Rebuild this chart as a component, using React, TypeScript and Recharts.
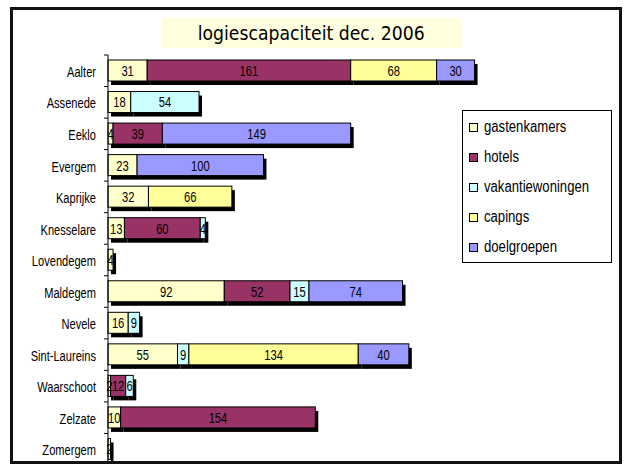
import React from 'react';
import { BarChart, Bar, XAxis, YAxis, LabelList } from 'recharts';

const categories = ['Aalter', 'Assenede', 'Eeklo', 'Evergem', 'Kaprijke', 'Knesselare', 'Lovendegem', 'Maldegem', 'Nevele', 'Sint-Laureins', 'Waarschoot', 'Zelzate', 'Zomergem'];
const gastenkamers = [31, 18, 4, 23, 32, 13, 4, 92, 16, 55, 2, 10, 2];
const hotels = [161, null, 39, null, null, 60, null, 52, null, null, 12, 154, null];
const vakantiewoningen = [null, 54, null, null, null, 4, null, 15, 9, 9, 6, null, null];
const capings = [68, null, null, null, 66, null, null, null, null, 134, null, null, null];
const doelgroepen = [30, null, 149, 100, null, null, null, 74, null, 40, null, null, null];

const seriesNames = ['gastenkamers', 'hotels', 'vakantiewoningen', 'capings', 'doelgroepen'];
const seriesValues = [gastenkamers, hotels, vakantiewoningen, capings, doelgroepen];
const seriesColors = ['#FFFFCC', '#993366', '#CCFFFF', '#FFFF99', '#9999FF'];

const title = 'logiescapaciteit dec. 2006';

const data = categories.map((c, i) => {
  const row: Record<string, any> = { name: c };
  seriesNames.forEach((s, k) => {
    row[s] = seriesValues[k][i];
  });
  return row;
});

const FONT = "'Liberation Sans', Arial, sans-serif";
const CHART_H = 470;
const M_TOP = 55;
const M_BOTTOM = 5;
const BAND = (CHART_H - M_TOP - M_BOTTOM) / categories.length;

const ShadowBar = (props: any) => {
  const { x, y, width, height, fill } = props;
  if (!(width > 0) || !(height > 0)) return null;
  return (
    <g>
      <rect x={x + 3} y={y + 4} width={width} height={height} fill="#000" />
      <rect x={x} y={y} width={width} height={height} fill={fill} stroke="#000" strokeWidth={1} />
    </g>
  );
};

const ValueLabel = (props: any) => {
  const { x, y, width, height, value } = props;
  if (value === null || value === undefined || value === 0) return null;
  return (
    <text
      transform={`translate(${x + width / 2},${y + height / 2 + 1}) scale(0.8,1)`}
      x={0}
      y={0}
      textAnchor="middle"
      dominantBaseline="central"
      fontFamily={FONT}
      fontSize={14}
      fill="#000"
    >
      {value}
    </text>
  );
};

const CatTick = (props: any) => {
  const { x, y, payload } = props;
  return (
    <g>
      <line x1={x - 4} x2={x} y1={y - BAND / 2} y2={y - BAND / 2} stroke="#000" strokeWidth={1} />
      <text
        transform={`translate(${x - 12},${y + 1}) scale(0.74,1)`}
        x={0}
        y={0}
        textAnchor="end"
        dominantBaseline="central"
        fontFamily={FONT}
        fontSize={15}
        fill="#000"
      >
        {payload.value}
      </text>
    </g>
  );
};

export default function App() {
  return (
    <div style={{ position: 'fixed', left: 0, top: 0, width: 624, height: 464, overflow: 'hidden', background: '#fff' }}>
      <div style={{ position: 'absolute', left: 0, top: 0 }}>
        <BarChart
          width={624}
          height={CHART_H}
          data={data}
          layout="vertical"
          margin={{ top: M_TOP, right: 10.4, bottom: M_BOTTOM, left: 0 }}
          barSize={21}
        >
          <XAxis type="number" domain={[0, 400]} hide />
          <YAxis
            type="category"
            dataKey="name"
            width={108}
            tickSize={0}
            tickMargin={0}
            tickLine={false}
            axisLine={{ stroke: '#000', strokeWidth: 1 }}
            tick={<CatTick />}
            interval={0}
          />
          {seriesNames.map((s, k) => (
            <Bar key={s} dataKey={s} stackId="a" fill={seriesColors[k]} shape={<ShadowBar />} isAnimationActive={false}>
              <LabelList dataKey={s} content={<ValueLabel />} />
            </Bar>
          ))}
        </BarChart>
      </div>
      <div
        style={{
          position: 'absolute', left: 162, top: 18, width: 299, height: 30, background: '#FFFFE0',
          display: 'flex', alignItems: 'center', justifyContent: 'center',
        }}
      >
        <span style={{ fontFamily: "'DejaVu Sans', Verdana, sans-serif", fontSize: 19.5, color: '#000', display: 'inline-block', transform: 'scaleX(0.885)', whiteSpace: 'nowrap' }}>
          {title}
        </span>
      </div>
      <div
        style={{
          position: 'absolute', left: 462, top: 110, width: 150, height: 153, border: '1px solid #000',
          background: '#fff', boxSizing: 'border-box',
        }}
      >
        {seriesNames.map((s, k) => (
          <div
            key={s}
            style={{ position: 'absolute', left: 6, top: 16 + k * 30 - 10, height: 20, display: 'flex', alignItems: 'center' }}
          >
            <div style={{ width: 7, height: 7, border: '1px solid #000', background: seriesColors[k], flexShrink: 0 }} />
            <span style={{ marginLeft: 6, fontFamily: FONT, fontSize: 16, color: '#000', whiteSpace: 'nowrap', display: 'inline-block', transform: 'scaleX(0.82)', transformOrigin: 'left center' }}>{s}</span>
          </div>
        ))}
      </div>
      <div
        style={{
          position: 'absolute', left: 10, top: 7, width: 612, height: 457, border: '3px solid #111',
          boxSizing: 'border-box', pointerEvents: 'none',
        }}
      />
    </div>
  );
}
